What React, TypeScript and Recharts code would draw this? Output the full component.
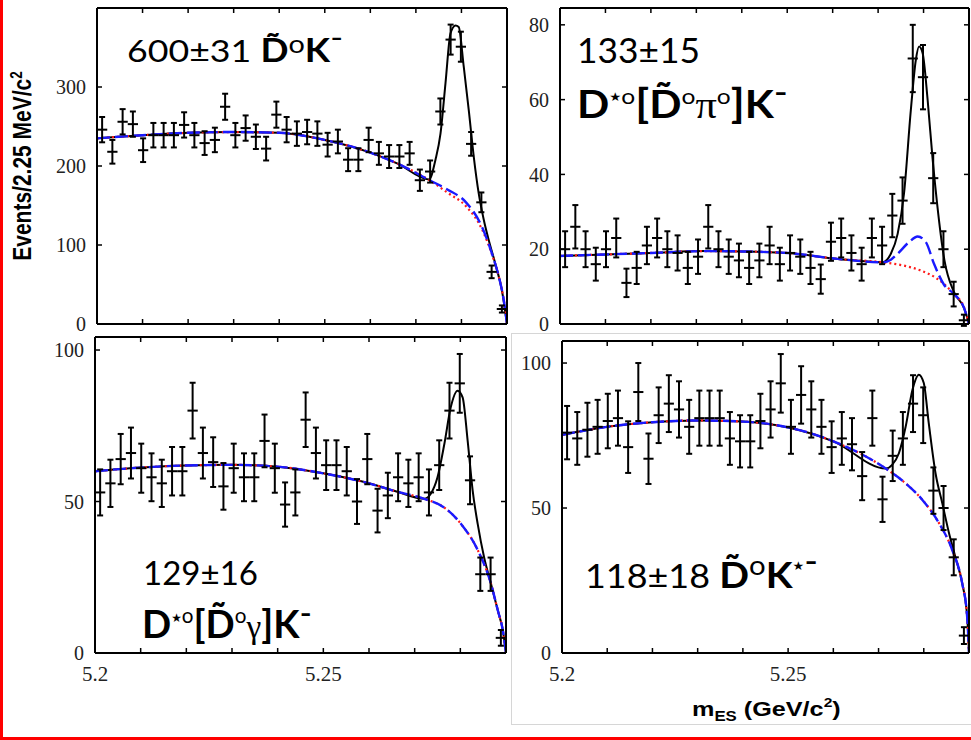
import React from "react";
import { ComposedChart, Scatter, ErrorBar, Line, XAxis, YAxis } from "recharts";

// m_ES binning: 40 bins of 2.25 MeV between 5.20 and 5.29 GeV
const BIN_WIDTH = 0.00225;
const X_MIN = 5.2;
const X_MAX = 5.29;
const X_TICKS = [5.2, 5.21, 5.22, 5.23, 5.24, 5.25, 5.26, 5.27, 5.28, 5.29];
const X_LABELS = [5.2, 5.25];
const binX = Array.from({ length: 40 }, (_, i) => +(X_MIN + BIN_WIDTH * (i + 0.5)).toFixed(6));

// ---- panel 1: D0 K-
const P1_COUNTS = [246, 218, 256, 253, 220, 239, 239, 239, 252, 239, 229, 233, 275, 239, 248, 237, 222, 265, 246, 241,
  243, 241, 227, 231, 208, 208, 233, 216, 212, 212, 216, 182, 193, 269, 360, 351, 228, 154, 66, 19];
const P1_ERRS = [16, 15, 16, 16, 15, 15.5, 15.5, 15.5, 16, 15.5, 15, 15.5, 16.5, 15.5, 16, 15.5, 15, 16.5, 16, 15.5,
  15.5, 15.5, 15, 15, 14.5, 14.5, 15.5, 14.5, 14.5, 14.5, 14.5, 13.5, 14, 16.5, 19, 19, 15, 12.5, 8, 4.5];
const P1_BKG_X = [5.2, 5.21, 5.22, 5.23, 5.24, 5.25, 5.26, 5.266, 5.273, 5.277, 5.281, 5.2845, 5.2867, 5.2882, 5.2893, 5.29];
const P1_BLUE_Y = [235, 239, 242, 243, 242, 233, 217, 203, 182, 170, 154, 123, 89, 60, 30, 0];
const P1_RED_Y = [235, 239, 242, 243, 242, 233, 217, 203, 182, 166, 149, 120, 88, 60, 30, 0];
const P1_TOT_X = [5.2, 5.21, 5.22, 5.23, 5.24, 5.25, 5.26, 5.266, 5.2729, 5.2743, 5.2754, 5.2765, 5.2776, 5.2787, 5.2794,
  5.2805, 5.2816, 5.2827, 5.2838, 5.2849, 5.286, 5.2874, 5.2889, 5.29];
const P1_TOT_Y = [235, 239, 242, 243, 242, 233, 217, 203, 183, 208, 241, 305, 368, 378, 376, 326, 271, 212, 165, 132, 106, 77, 42, 0];

// ---- panel 2: D*0[D0 pi0] K-
const P2_COUNTS = [20, 26, 20, 16, 20, 23, 11, 15, 21, 23, 20, 19, 15, 18, 26, 20, 18, 17, 15, 17,
  21, 16, 19, 18, 15, 12, 22, 23, 19, 16, 23, 21, 29, 33, 71, 66, 39, 20, 8, 1];
const P2_ERRS = [4.8, 5.8, 4.8, 4.4, 4.8, 5.2, 3.8, 4.3, 5.0, 5.2, 4.8, 4.7, 4.3, 4.6, 5.8, 4.8, 4.6, 4.5, 4.3, 4.5,
  5.0, 4.4, 4.7, 4.6, 4.3, 3.9, 5.1, 5.2, 4.7, 4.4, 5.2, 5.0, 5.8, 6.2, 9.0, 8.6, 6.7, 4.8, 3.3, 1.5];
const P2_RED_X = [5.2, 5.21, 5.22, 5.232, 5.24, 5.25, 5.2611, 5.271, 5.2757, 5.2794, 5.283, 5.2867, 5.2889, 5.29];
const P2_RED_Y = [18.2, 18.6, 19.0, 19.5, 19.4, 19.0, 17.4, 16.5, 15.6, 14.3, 12.1, 8.0, 4.5, 0];
const P2_BLUE_X = [5.2, 5.21, 5.22, 5.232, 5.24, 5.25, 5.2611, 5.271, 5.2728, 5.2743, 5.2768, 5.2787, 5.2805, 5.2823,
  5.2845, 5.2867, 5.2889, 5.29];
const P2_BLUE_Y = [18.2, 18.6, 19.0, 19.5, 19.4, 19.0, 17.4, 16.5, 17.2, 18.8, 21.9, 23.4, 21.9, 16.1, 10.5, 8.0, 4.3, 0];
const P2_TOT_X = [5.2, 5.21, 5.22, 5.232, 5.24, 5.25, 5.2611, 5.271, 5.2728, 5.2743, 5.2757, 5.2772, 5.2783, 5.279,
  5.2798, 5.2809, 5.282, 5.283, 5.2846, 5.2867, 5.2889, 5.29];
const P2_TOT_Y = [18.2, 18.6, 19.0, 19.5, 19.4, 19.0, 17.4, 16.5, 18.8, 24.1, 34.9, 57.2, 70.6, 74.2, 72.4, 59.9, 44, 32, 17, 8.5, 4.3, 0];

// ---- panel 3: D*0[D0 gamma] K-
const P3_COUNTS = [53, 56, 64, 66, 61, 58, 56, 60, 60, 80, 66, 63, 55, 61, 58, 58, 70, 61, 49, 53,
  77, 66, 62, 62, 60, 50, 64, 47, 52, 58, 56, 58, 53, 62, 80, 89, 57, 26, 26, 5];
const P3_ERRS = [7.6, 7.8, 8.3, 8.4, 8.1, 7.9, 7.8, 8.0, 8.0, 9.2, 8.4, 8.2, 7.7, 8.1, 7.9, 7.9, 8.7, 8.1, 7.3, 7.6,
  9.0, 8.4, 8.2, 8.2, 8.0, 7.4, 8.3, 7.2, 7.5, 7.9, 7.8, 7.9, 7.6, 8.2, 9.2, 9.7, 7.9, 5.5, 5.5, 2.6];
const P3_BKG_X = [5.2, 5.21, 5.22, 5.23, 5.24, 5.25, 5.26, 5.266, 5.2721, 5.2765, 5.2802, 5.2838, 5.2867, 5.2882, 5.2893, 5.29];
const P3_BKG_Y = [60.0, 61.2, 61.9, 62.1, 61.5, 59.3, 56.0, 53.3, 50.9, 48.0, 42.5, 34.0, 22.9, 14.1, 7.5, 0];
const P3_TOT_X = [5.2, 5.21, 5.22, 5.23, 5.24, 5.25, 5.26, 5.266, 5.2721, 5.2735, 5.275, 5.2765, 5.2779, 5.2794, 5.2805,
  5.2816, 5.2827, 5.2838, 5.2852, 5.2867, 5.2882, 5.2893, 5.29];
const P3_TOT_Y = [60.0, 61.2, 61.9, 62.1, 61.5, 59.3, 56.0, 53.3, 50.9, 52.5, 58.0, 69.0, 81.1, 86.6, 84.4, 70.1, 53.6,
  42.6, 31.6, 22.9, 14.1, 7.5, 0];

// ---- panel 4: D0 K*-
const P4_COUNTS = [76, 74, 77, 78, 80, 81, 71, 90, 67, 82, 86, 84, 78, 81, 81, 81, 74, 73, 73, 80,
  84, 93, 78, 89, 84, 78, 71, 74, 72, 61, 81, 53, 68, 74, 86, 82, 56, 50, 33, 6];
const P4_ERRS = [9.2, 9.1, 9.3, 9.3, 9.4, 9.5, 8.9, 10.0, 8.7, 9.6, 9.8, 9.7, 9.3, 9.5, 9.5, 9.5, 9.1, 9.0, 9.0, 9.4,
  9.7, 10.1, 9.3, 9.9, 9.7, 9.3, 8.9, 9.1, 9.0, 8.3, 9.5, 7.8, 8.7, 9.1, 9.8, 9.6, 8.0, 7.6, 6.2, 2.9];
const P4_BKG_X = [5.2, 5.21, 5.22, 5.23, 5.24, 5.25, 5.26, 5.2716, 5.276, 5.2797, 5.2834, 5.2863, 5.2885, 5.2896, 5.29];
const P4_BKG_Y = [75.2, 78.0, 79.6, 80.2, 79.8, 77.8, 73.0, 63.6, 58.5, 52.8, 44.7, 35.5, 24.0, 12.4, 0];
const P4_TOT_X = [5.2, 5.21, 5.22, 5.23, 5.24, 5.25, 5.26, 5.2716, 5.273, 5.2745, 5.276, 5.2775, 5.2789, 5.28, 5.2811,
  5.2826, 5.2841, 5.2856, 5.287, 5.2885, 5.2896, 5.29];
const P4_TOT_Y = [75.2, 78.0, 79.6, 80.2, 79.8, 77.8, 73.0, 63.6, 64.9, 68.9, 78.1, 90.8, 96.0, 93.1, 79.3, 62.0, 51.6,
  41.2, 33.0, 24.0, 12.4, 0];

const SANS = "Lato, 'Open Sans', 'Noto Sans', sans-serif";
const SERIF = "'Liberation Serif', 'DejaVu Serif', serif";
const ARIAL = "'Liberation Sans', Arial, sans-serif";
const DEJAVU = "'DejaVu Sans', sans-serif";
const D_TILDE = "D\u0303";

const toPts = (xs: number[], ys: number[]) => xs.map((x, i) => ({ x, y: ys[i] }));

interface PanelProps {
  left: number;
  top: number;
  w: number;
  h: number;
  yMax: number;
  yTicks: number[];
  xLabels: boolean;
  counts: number[];
  errs: number[];
  total: { x: number; y: number }[];
  blue: { x: number; y: number }[];
  red: { x: number; y: number }[];
}

const AXIS_LINE = { stroke: "#000", strokeWidth: 2 };
const TICK_LINE = { stroke: "#000", strokeWidth: 1.5 };
const TICK_TEXT = { fill: "#222", fontSize: 20, fontFamily: SERIF };

function Panel(p: PanelProps) {
  // space reserved around the plot box by the four axes
  const L = 60, B = 40, T = 2, R = 2;
  const pts = binX.map((x, i) => ({ x, y: p.counts[i], ex: BIN_WIDTH / 2, ey: p.errs[i] }));
  const blank = () => "";
  const fmtX = (v: number) => (p.xLabels && X_LABELS.includes(v) ? String(v) : "");

  return (
    <div style={{ position: "absolute", left: p.left - L, top: p.top - T }}>
      <ComposedChart width={p.w + L + R} height={p.h + T + B} margin={{ top: 0, right: 0, bottom: 0, left: 0 }}>
        <XAxis xAxisId="b" dataKey="x" type="number" domain={[X_MIN, X_MAX]} allowDataOverflow ticks={X_TICKS}
          interval={0} height={B} tickSize={-5} tickMargin={18} tickFormatter={fmtX}
          axisLine={AXIS_LINE} tickLine={TICK_LINE} tick={{ ...TICK_TEXT, fontSize: 21 }} />
        <XAxis xAxisId="t" orientation="top" dataKey="x" type="number" domain={[X_MIN, X_MAX]} allowDataOverflow
          ticks={X_TICKS} interval={0} height={T} tickSize={-5} tickFormatter={blank}
          axisLine={AXIS_LINE} tickLine={TICK_LINE} tick={TICK_TEXT} />
        <YAxis yAxisId="l" dataKey="y" type="number" domain={[0, p.yMax]} allowDataOverflow ticks={p.yTicks}
          interval={0} width={L} tickSize={-5} tickMargin={16}
          axisLine={AXIS_LINE} tickLine={TICK_LINE} tick={TICK_TEXT} />
        <YAxis yAxisId="r" orientation="right" type="number" domain={[0, p.yMax]} allowDataOverflow ticks={p.yTicks}
          interval={0} width={R} tickSize={-5} tickFormatter={blank}
          axisLine={AXIS_LINE} tickLine={TICK_LINE} tick={TICK_TEXT} />

        <Line xAxisId="b" yAxisId="l" data={p.total} dataKey="y" type="monotone" dot={false}
          stroke="#000" strokeWidth={2} isAnimationActive={false} />
        <Line xAxisId="b" yAxisId="l" data={p.red} dataKey="y" type="monotone" dot={false}
          stroke="#ff1a1a" strokeWidth={2.2} strokeDasharray="2 3" isAnimationActive={false} />
        <Line xAxisId="b" yAxisId="l" data={p.blue} dataKey="y" type="monotone" dot={false}
          stroke="#1a1aff" strokeWidth={2.4} strokeDasharray="13 5" isAnimationActive={false} />

        <Scatter xAxisId="b" yAxisId="l" data={pts} dataKey="y" fill="#000" shape={() => <g />}
          isAnimationActive={false}>
          <ErrorBar dataKey="ex" direction="x" width={0} stroke="#000" strokeWidth={2} isAnimationActive={false} />
          <ErrorBar dataKey="ey" direction="y" width={3} stroke="#000" strokeWidth={2} isAnimationActive={false} />
        </Scatter>
      </ComposedChart>
    </div>
  );
}

// a run of a yield label: one line of text, stretched to the width seen in the figure
function Run({ x, y, len, size, children }: { x: number; y: number; len: number; size: number; children: React.ReactNode }) {
  return (
    <text x={x} y={y} fill="#000" fontFamily={SANS} fontSize={size} textLength={len} lengthAdjust="spacingAndGlyphs">
      {children}
    </text>
  );
}

export default function App() {
  return (
    <div style={{ position: "absolute", left: 0, top: 0, width: 971, height: 740, background: "#fff", overflow: "hidden" }}>
      <Panel left={97} top={8} w={410} h={316} yMax={400} yTicks={[0, 100, 200, 300]} xLabels={false}
        counts={P1_COUNTS} errs={P1_ERRS} total={toPts(P1_TOT_X, P1_TOT_Y)}
        blue={toPts(P1_BKG_X, P1_BLUE_Y)} red={toPts(P1_BKG_X, P1_RED_Y)} />
      <Panel left={560} top={8} w={409} h={316} yMax={84.5} yTicks={[0, 20, 40, 60, 80]} xLabels={false}
        counts={P2_COUNTS} errs={P2_ERRS} total={toPts(P2_TOT_X, P2_TOT_Y)}
        blue={toPts(P2_BLUE_X, P2_BLUE_Y)} red={toPts(P2_RED_X, P2_RED_Y)} />
      <Panel left={95} top={337} w={411} h={316} yMax={104.3} yTicks={[0, 50, 100]} xLabels
        counts={P3_COUNTS} errs={P3_ERRS} total={toPts(P3_TOT_X, P3_TOT_Y)}
        blue={toPts(P3_BKG_X, P3_BKG_Y)} red={toPts(P3_BKG_X, P3_BKG_Y)} />
      <Panel left={562} top={341} w={407} h={312} yMax={107.6} yTicks={[0, 50, 100]} xLabels
        counts={P4_COUNTS} errs={P4_ERRS} total={toPts(P4_TOT_X, P4_TOT_Y)}
        blue={toPts(P4_BKG_X, P4_BKG_Y)} red={toPts(P4_BKG_X, P4_BKG_Y)} />

      <svg width={971} height={740} style={{ position: "absolute", left: 0, top: 0, pointerEvents: "none" }}>
        {/* slide frame */}
        <rect x={0} y={0} width={3} height={740} fill="#ff0000" />
        <rect x={0} y={737} width={971} height={3} fill="#ff0000" />
        <rect x={511.5} y={333.5} width={470} height={391} fill="none" stroke="#d6d6d6" strokeWidth={1} />

        {/* axis titles */}
        <text transform="translate(31,166) rotate(-90) scale(0.84,1)" textAnchor="middle" fontFamily={ARIAL}
          fontWeight={700} fontSize={25} fill="#000">
          Events/2.25 MeV/c<tspan dy={-9} fontSize={16}>2</tspan>
        </text>
        <text transform="translate(692,716) scale(1.2,1)" fontFamily={ARIAL} fontWeight={700} fontSize={21} fill="#000">
          m<tspan fontSize={14} dy={5}>ES</tspan><tspan dy={-5}> (GeV/c</tspan><tspan fontSize={13} dy={-9}>2</tspan><tspan dy={9}>)</tspan>
        </text>

        {/* panel 1: 600±31 D~0 K- */}
        <Run x={127} y={62} len={216} size={31}>
          600±31{" "}
          <tspan fontWeight={700} fontSize={32}>{D_TILDE}</tspan>
          <tspan fontSize={25} dy={-9}>o</tspan>
          <tspan fontWeight={700} fontSize={32} dy={9}>K</tspan>
          <tspan fontSize={30} dy={-14}>-</tspan>
        </Run>

        {/* panel 2: 133±15 / D*0[D~0 pi0] K- */}
        <Run x={577} y={63} len={123} size={34}>133±15</Run>
        <Run x={577} y={118} len={211} size={38}>
          <tspan fontWeight={700}>D</tspan>
          <tspan fontSize={12} fontFamily={DEJAVU} dy={-17}>★</tspan>
          <tspan fontSize={22} dy={3}>o</tspan>
          <tspan fontWeight={700} fontSize={40} dy={14}>[</tspan>
          <tspan fontWeight={700}>{D_TILDE}</tspan>
          <tspan fontSize={22} dy={-14}>o</tspan>
          <tspan fontFamily={SERIF} dy={14}>π</tspan>
          <tspan fontSize={22} dy={-14}>o</tspan>
          <tspan fontWeight={700} fontSize={40} dy={14}>]</tspan>
          <tspan fontWeight={700}>K</tspan>
          <tspan fontSize={34} dy={-14}>-</tspan>
        </Run>

        {/* panel 3: 129±16 / D*0[D~0 gamma] K- */}
        <Run x={143} y={585} len={115} size={32}>129±16</Run>
        <Run x={142} y={638} len={170} size={39}>
          <tspan fontWeight={700}>D</tspan>
          <tspan fontSize={12} fontFamily={DEJAVU} dy={-16}>★</tspan>
          <tspan fontSize={21} dy={1}>o</tspan>
          <tspan fontWeight={700} dy={15}>[</tspan>
          <tspan fontWeight={700}>{D_TILDE}</tspan>
          <tspan fontSize={21} dy={-15}>o</tspan>
          <tspan fontFamily={SERIF} fontSize={34} dy={15}>γ</tspan>
          <tspan fontWeight={700}>]</tspan>
          <tspan fontWeight={700}>K</tspan>
          <tspan fontSize={34} dy={-13}>-</tspan>
        </Run>

        {/* panel 4: 118±18 D~0 K*- */}
        <Run x={585} y={588} len={233} size={33}>
          118±18{" "}
          <tspan fontWeight={700} fontSize={36}>{D_TILDE}</tspan>
          <tspan fontSize={27} dy={-13}>o</tspan>
          <tspan fontWeight={700} fontSize={36} dy={13}>K</tspan>
          <tspan fontSize={12} fontFamily={DEJAVU} dy={-18}>★</tspan>
          <tspan fontSize={34} dy={3}>-</tspan>
        </Run>
      </svg>
    </div>
  );
}
